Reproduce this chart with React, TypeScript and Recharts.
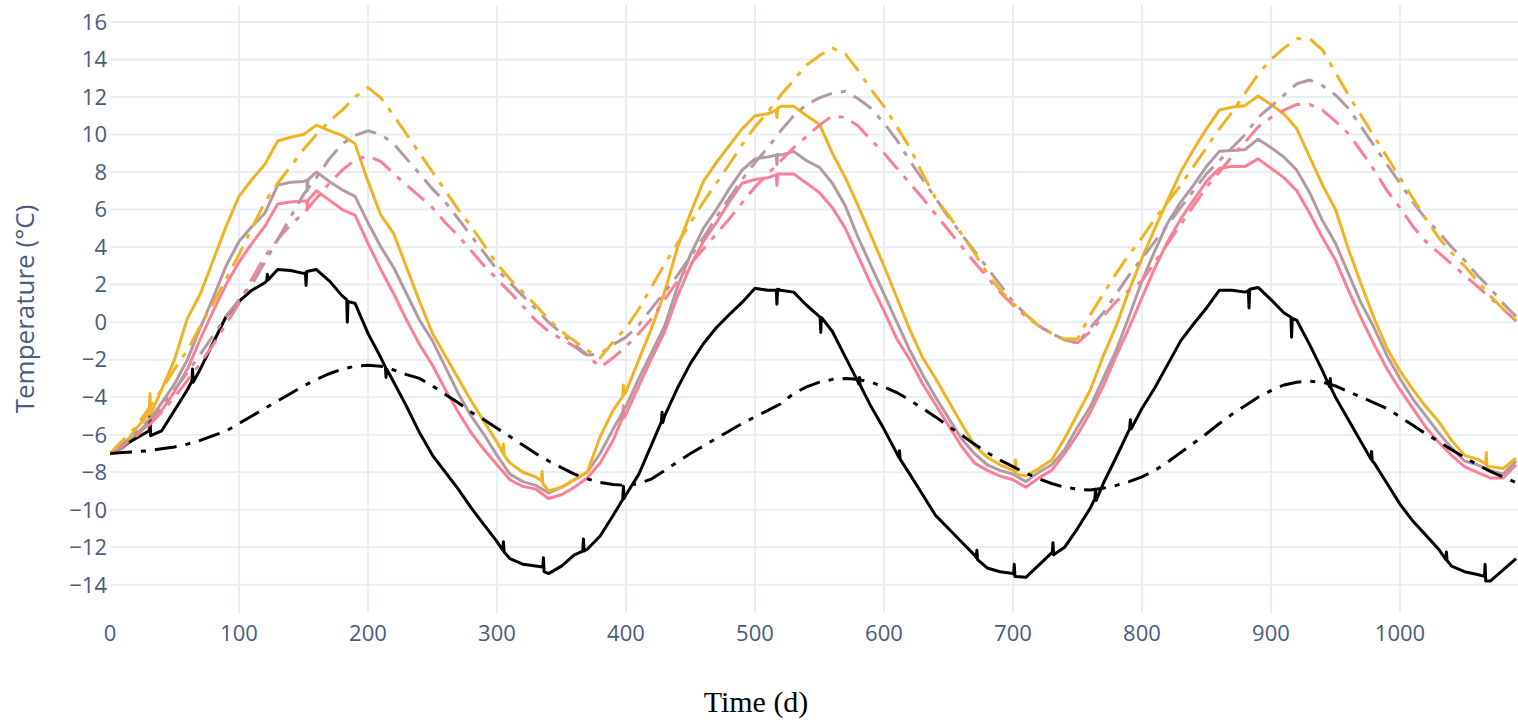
import React from "react";
import { Label, Line, LineChart, ReferenceLine, XAxis, YAxis } from "recharts";

// sample days, every 10 d from 0 to 1090
const days = Array.from({ length: 110 }, (_, i) => i * 10);

const dayTicks = [0, 100, 200, 300, 400, 500, 600, 700, 800, 900, 1000];
const tempTicks = [-14, -12, -10, -8, -6, -4, -2, 0, 2, 4, 6, 8, 10, 12, 14, 16];
const DAY_MAX = 1091.5;
const TEMP_MIN = -15.5;
const TEMP_MAX = 16.9;

// solid curves
const yellowSolid = [
  -7, -6.6, -5.7, -4.9, -3.6, -2.0, 0.2, 1.5, 3.3, 5.1,
  6.7, 7.6, 8.4, 9.65, 9.85, 10.0, 10.5, 10.2, 9.95, 9.5,
  7.5, 5.7, 4.7, 2.9, 1.1, -0.6, -1.8, -3.0, -4.2, -5.3,
  -6.4, -7.5, -8.0, -8.25, -9.0, -8.8, -8.4, -8.0, -6.1, -4.7,
  -3.7, -2.0, -0.3, 1.6, 4.0, 5.8, 7.5, 8.5, 9.4, 10.3,
  11.0, 11.1, 11.5, 11.5, 11.0, 10.55, 9.0, 7.7, 6.2, 4.6,
  3.0, 1.3, -0.4, -1.9, -3.0, -4.2, -5.4, -6.55, -7.2, -7.6,
  -7.9, -8.2, -7.8, -7.35, -6.2, -4.9, -3.6, -1.8, -0.2, 1.7,
  3.4, 5.0, 6.5, 8.0, 9.2, 10.3, 11.3, 11.45, 11.55, 12.05,
  11.6, 11.1, 10.3, 8.8, 7.3, 6.0, 3.9, 2.0, 0.2, -1.4,
  -2.6, -3.6, -4.5, -5.3, -6.3, -7.1, -7.3, -7.7, -7.8, -7.25,
];

const mauveSolid = [
  -7, -6.7, -6.0, -5.3, -4.3, -3.3, -2.0, -0.3, 1.3, 3.0,
  4.3, 5.1, 5.8, 7.3, 7.45, 7.5, 8.0, 7.5, 7.05, 6.7,
  5.3, 4.0, 2.9, 1.5, 0.1, -1.0, -2.4, -3.8, -5.0, -6.0,
  -7.1, -8.1, -8.5, -8.7, -9.1, -8.8, -8.4, -8.0, -7.0, -5.7,
  -4.5, -3.0, -1.6, -0.2, 1.9, 3.6, 5.0, 6.0, 7.1, 8.1,
  8.7, 8.8, 8.9, 9.1, 8.6, 8.25, 7.4, 6.2, 4.5, 3.0,
  1.5, 0.0, -1.5, -2.8, -4.0, -5.1, -6.2, -7.0, -7.6, -7.9,
  -8.1, -8.5, -8.0, -7.6, -6.8, -5.6, -4.5, -3.0, -1.5, 0.3,
  2.2, 3.8, 5.3, 6.4, 7.3, 8.3, 9.1, 9.15, 9.2, 9.75,
  9.3, 8.8, 8.1, 6.9, 5.4, 4.2, 2.6, 1.0, -0.3, -1.8,
  -3.0, -4.1, -5.0, -5.9, -6.7, -7.4, -7.6, -7.9, -8.1, -7.4,
];

const pinkSolid = [
  -7, -6.7, -6.1, -5.4, -4.7, -3.7, -2.5, -0.9, 0.6, 2.0,
  3.2, 4.2, 5.1, 6.3, 6.4, 6.45, 7.0, 6.5, 6.0, 5.7,
  4.2, 2.8, 1.5, 0.1, -1.2, -2.3, -3.6, -4.8, -5.9, -6.8,
  -7.6, -8.4, -8.75, -8.9, -9.4, -9.2, -8.8, -8.3, -7.5, -6.3,
  -4.9, -3.4, -1.9, -0.5, 1.4, 3.0, 4.3, 5.3, 6.4, 7.4,
  7.6, 7.7, 7.9, 7.9, 7.4, 6.9, 6.1, 5.0, 3.5, 2.0,
  0.6, -0.9, -2.0, -3.3, -4.4, -5.5, -6.6, -7.5, -7.9, -8.2,
  -8.4, -8.8, -8.3, -7.9, -7.0, -6.0, -4.8, -3.4, -1.8, -0.3,
  1.3, 2.9, 4.3, 5.5, 6.5, 7.5, 8.2, 8.3, 8.3, 8.7,
  8.2, 7.7, 7.0, 5.8, 4.5, 3.3, 1.7, 0.2, -1.2, -2.5,
  -3.6, -4.6, -5.6, -6.4, -7.1, -7.7, -8.0, -8.3, -8.3, -7.6,
];

const blackSolid = [
  -7, -6.6, -6.2, -5.8, -5.8, -4.7, -3.6, -2.5, -1.1, 0.3,
  1.1, 1.7, 2.1, 2.8, 2.75, 2.6, 2.8, 2.2, 1.4, 1.0,
  -0.6, -1.9, -3.2, -4.5, -5.9, -7.1, -8.0, -8.9, -9.9, -10.8,
  -11.7, -12.6, -12.9, -13.0, -13.4, -13.0, -12.4, -12.1, -11.4, -10.3,
  -9.2, -8.1, -6.5, -5.0, -3.5, -2.2, -1.15, -0.3, 0.4, 1.05,
  1.8, 1.7, 1.7, 1.6, 0.9, 0.3, -0.5, -1.85, -3.2, -4.5,
  -5.7, -7.0, -8.1, -9.2, -10.3, -11.0, -11.7, -12.4, -13.1, -13.3,
  -13.4, -13.6, -12.95, -12.3, -12.0, -11.0, -9.9, -8.6, -7.2, -5.75,
  -4.6, -3.5, -2.25, -1.0, -0.1, 0.75, 1.7, 1.7, 1.6, 1.85,
  1.2, 0.5, 0.1, -1.2, -2.6, -4.0, -5.2, -6.4, -7.5, -8.6,
  -9.7, -10.6, -11.35, -12.1, -13.0, -13.3, -13.45, -13.8, -13.2, -12.6,
];

// dash-dot curves
const yellowDash = [
  -7, -6.3, -5.6, -4.6, -3.6, -2.5, -1.5, -0.2, 1.0, 2.3,
  3.6, 5.0, 6.4, 7.4, 8.3, 9.2, 10.0, 10.7, 11.3, 12.0,
  12.5, 11.95, 11.0, 10.0, 9.0, 8.0, 7.0, 6.0, 5.1, 4.1,
  3.1, 2.3, 1.6, 0.9, 0.15, -0.5, -1.0, -1.5, -1.9, -1.05,
  -0.3, 0.7, 1.9, 3.1, 4.2, 5.3, 6.4, 7.4, 8.4, 9.45,
  10.4, 11.2, 12.1, 12.9, 13.7, 14.2, 14.6, 14.3, 13.4, 12.4,
  11.5, 10.4, 9.3, 7.9, 6.6, 5.7, 4.7, 3.7, 2.6, 1.7,
  1.0, 0.4, -0.2, -0.6, -0.9, -0.9, 0.4, 1.5, 2.6, 3.6,
  4.5, 5.5, 6.4, 7.3, 8.3, 9.3, 10.3, 11.2, 12.2, 13.2,
  14.0, 14.6, 15.1, 15.1, 14.5, 13.3, 12.1, 11.0, 9.9, 8.8,
  7.7, 6.6, 5.5, 4.5, 3.7, 3.0, 2.2, 1.4, 0.7, 0.1,
];

const mauveDash = [
  -7, -6.5, -5.9, -5.2, -4.5, -3.6, -2.7, -1.7, -0.7, 0.3,
  1.2, 2.0, 3.2, 4.4, 5.6, 6.8, 7.7, 8.7, 9.5, 9.95,
  10.2, 10.0, 9.5, 8.7, 7.9, 7.1, 6.4, 5.5, 4.6, 3.7,
  2.8, 2.1, 1.4, 0.7, 0.0, -0.6, -1.2, -1.75, -1.7, -1.2,
  -0.8, -0.15, 0.75, 1.6, 2.5, 3.5, 4.5, 5.6, 6.6, 7.6,
  8.5, 9.3, 10.2, 11.0, 11.6, 11.95, 12.2, 12.3, 11.9, 11.4,
  10.6, 9.7, 8.6, 7.6, 6.6, 5.6, 4.7, 3.8, 2.9, 2.0,
  1.1, 0.4, -0.2, -0.6, -0.95, -1.1, -0.3, 0.5, 1.5, 2.5,
  3.4, 4.3, 5.2, 6.1, 7.0, 7.9, 8.6, 9.3, 10.0, 10.9,
  11.5, 12.1, 12.7, 12.9, 12.6, 12.1, 11.4, 10.4, 9.4, 8.4,
  7.4, 6.4, 5.5, 4.8, 4.0, 3.3, 2.5, 1.8, 1.0, 0.3,
];

const pinkDash = [
  -7, -6.6, -6.1, -5.5, -4.8, -4.0, -3.1, -2.2, -1.2, -0.1,
  1.0, 2.3, 3.5, 4.4, 5.2, 5.8, 6.6, 7.4, 8.1, 8.65,
  8.85, 8.55, 7.9, 7.3, 6.7, 6.1, 5.3, 4.6, 3.8, 3.0,
  2.3, 1.6, 0.85, 0.1, -0.5, -0.9, -1.3, -1.8, -2.4, -1.9,
  -1.3, -0.6, 0.2, 1.2, 2.2, 3.1, 3.9, 4.7, 5.5, 6.35,
  7.2, 7.9, 8.6, 9.3, 9.9, 10.5, 11.0, 10.9, 10.45, 9.7,
  9.0, 8.2, 7.4, 6.6, 5.75, 4.9, 4.05, 3.2, 2.4, 1.6,
  0.9, 0.3, -0.2, -0.6, -0.95, -1.1, -0.5, 0.3, 1.1, 1.7,
  2.2, 3.2, 4.2, 5.2, 6.2, 7.2, 8.0, 8.85, 9.6, 10.4,
  10.9, 11.3, 11.6, 11.6, 11.3, 10.7, 10.05, 9.1, 8.1, 7.0,
  6.1, 5.1, 4.3, 3.7, 3.1, 2.5, 1.9, 1.3, 0.7, 0.05,
];

const blackDash = [
  -7.0, -6.95, -6.9, -6.85, -6.75, -6.65, -6.5, -6.3, -6.05, -5.8,
  -5.4, -5.0, -4.6, -4.2, -3.8, -3.4, -3.05, -2.75, -2.5, -2.35,
  -2.3, -2.35, -2.55, -2.8, -3.0, -3.4, -3.85, -4.3, -4.8, -5.2,
  -5.65, -6.1, -6.55, -7.0, -7.4, -7.75, -8.1, -8.35, -8.55, -8.65,
  -8.7, -8.6, -8.35, -7.9, -7.45, -7.0, -6.6, -6.2, -5.8, -5.4,
  -5.05, -4.7, -4.35, -3.8, -3.45, -3.2, -3.05, -3.0, -3.05, -3.2,
  -3.45, -3.75, -4.15, -4.6, -5.05, -5.55, -6.0, -6.5, -6.95, -7.35,
  -7.7, -8.05, -8.35, -8.6, -8.8, -8.9, -8.95, -8.85, -8.7, -8.5,
  -8.25, -7.9, -7.45, -6.95, -6.45, -5.95, -5.4, -4.9, -4.45, -4.0,
  -3.65, -3.35, -3.2, -3.15, -3.2, -3.4, -3.7, -4.0, -4.3, -4.6,
  -5.05, -5.5, -5.95, -6.35, -6.8, -7.2, -7.6, -7.95, -8.25, -8.55,
];

// month-boundary glitches on the solid curves: [day, before, tip, after]
const blackSpikes = [
  [31, -5.75, -5.05, -6.05], [64, -3.15, -2.5, -3.2], [122, 2.2, 2.55, 2.25],
  [152, 2.62, 1.95, 2.7], [184, 1.2, 0.0, 1.1], [214, -2.4, -2.95, -2.5],
  [305, -12.15, -11.7, -12.25], [336, -13.05, -12.55, -13.3], [367, -12.2, -11.55, -12.2],
  [398, -9.45, -8.75, -9.4], [428, -5.3, -4.8, -5.35], [517, 1.7, 0.95, 1.75],
  [551, 0.22, -0.55, 0.25], [581, -3.3, -2.95, -3.35], [612, -7.2, -6.85, -7.3],
  [672, -12.55, -12.15, -12.65], [701, -13.42, -12.9, -13.55], [731, -12.27, -11.75, -12.4],
  [764, -9.4, -8.9, -9.5], [791, -5.65, -5.2, -5.7], [883, 1.68, 0.75, 1.75],
  [916, 0.26, -0.8, 0.2], [946, -3.45, -3.0, -3.5], [978, -7.3, -6.9, -7.4],
  [1036, -12.65, -12.25, -12.7], [1066, -13.55, -12.9, -13.8],
];

const yellowSpikes = [
  [31, -4.8, -3.8, -4.9], [305, -6.95, -6.5, -7.1], [335, -8.45, -7.95, -8.6],
  [398, -3.95, -3.35, -3.85], [517, 11.3, 10.9, 11.4], [702, -7.95, -7.35, -8.1],
  [1067, -7.55, -6.95, -7.75],
];

const pinkSpikes = [[398, -5.05, -4.45, -5.1], [153, 6.45, 6.0, 6.5], [517, 7.85, 7.3, 7.9]];

const mauveSpikes = [[153, 7.55, 7.0, 7.6], [517, 8.9, 8.4, 8.95]];

const YELLOW = "#f0b323";
const MAUVE = "#b39aa2";
const PINK = "#fd7f95";
const BLACK = "#000000";
const DASH_DOT = "22 9 5 9";
const GRID = "#e8edf6";

const TICK_COLOR = "#4b5b7c";
const FONT = "'Open Sans', sans-serif";

const gridRows = days.map((day, i) => ({
  day,
  yellowSolid: yellowSolid[i],
  mauveSolid: mauveSolid[i],
  pinkSolid: pinkSolid[i],
  blackSolid: blackSolid[i],
  yellowDash: yellowDash[i],
  mauveDash: mauveDash[i],
  pinkDash: pinkDash[i],
  blackDash: blackDash[i],
}));

// each glitch becomes three rows one half-day apart, only for its own curve
const spikeRows = (key: string, spikes: number[][]) =>
  spikes.flatMap(([day, before, tip, after]) => [
    { day: day - 0.5, [key]: before },
    { day, [key]: tip },
    { day: day + 0.5, [key]: after },
  ]);

const data = [
  ...gridRows,
  ...spikeRows("blackSolid", blackSpikes),
  ...spikeRows("yellowSolid", yellowSpikes),
  ...spikeRows("pinkSolid", pinkSpikes),
  ...spikeRows("mauveSolid", mauveSpikes),
].sort((a, b) => a.day - b.day);

const series = [
  { key: "pinkSolid", color: PINK, dash: undefined },
  { key: "mauveSolid", color: MAUVE, dash: undefined },
  { key: "yellowSolid", color: YELLOW, dash: undefined },
  { key: "blackSolid", color: BLACK, dash: undefined },
  { key: "pinkDash", color: PINK, dash: DASH_DOT },
  { key: "mauveDash", color: MAUVE, dash: DASH_DOT },
  { key: "yellowDash", color: YELLOW, dash: DASH_DOT },
  { key: "blackDash", color: BLACK, dash: DASH_DOT },
];

export default function App() {
  return (
    <div style={{ position: "absolute", left: 0, top: 0, width: 1518, height: 723, background: "#fff" }}>
      <LineChart
        width={1518}
        height={723}
        data={data}
        margin={{ top: 5, right: 0, bottom: 70, left: 0 }}
      >
        <XAxis
          type="number"
          dataKey="day"
          domain={[0, DAY_MAX]}
          ticks={dayTicks}
          allowDataOverflow
          height={40}
          axisLine={false}
          tickLine={false}
          tickSize={0}
          tickMargin={12}
          tick={{ fill: TICK_COLOR, fontSize: 22, fontFamily: FONT }}
        />
        <YAxis
          type="number"
          domain={[TEMP_MIN, TEMP_MAX]}
          ticks={tempTicks}
          allowDataOverflow
          width={110}
          axisLine={false}
          tickLine={false}
          tickSize={0}
          tickMargin={3}
          tick={{ fill: TICK_COLOR, fontSize: 22, fontFamily: FONT }}
          tickFormatter={(v: number) => (v < 0 ? `\u2212${Math.abs(v)}` : `${v}`)}
        >
          <Label
            value="Temperature (°C)"
            angle={-90}
            position="center"
            dx={-30}
            style={{ fill: TICK_COLOR, fontSize: 26, fontFamily: FONT, textAnchor: "middle" }}
          />
        </YAxis>
        {/* grid lines at the tick values only */}
        {dayTicks
          .filter((d) => d > 0)
          .map((d) => (
            <ReferenceLine key={`gx${d}`} x={d} stroke={GRID} strokeWidth={2} />
          ))}
        {tempTicks.map((t) => (
          <ReferenceLine key={`gy${t}`} y={t} stroke={GRID} strokeWidth={2} />
        ))}
        {series.map((s) => (
          <Line
            key={s.key}
            type="linear"
            dataKey={s.key}
            stroke={s.color}
            strokeWidth={3}
            strokeDasharray={s.dash}
            strokeLinejoin="round"
            connectNulls
            dot={false}
            activeDot={false}
            isAnimationActive={false}
          />
        ))}
      </LineChart>
      <div
        style={{
          position: "absolute",
          left: 656,
          top: 684,
          width: 200,
          textAlign: "center",
          fontFamily: "'Liberation Serif', 'Times New Roman', serif",
          fontSize: 30,
          lineHeight: "36px",
          color: "#000",
        }}
      >
        Time (d)
      </div>
    </div>
  );
}
